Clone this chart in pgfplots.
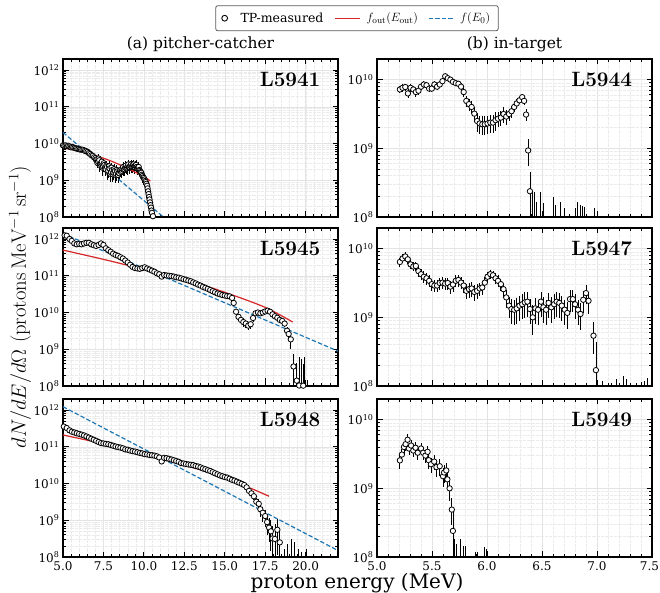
\documentclass[border=0pt]{standalone}
\usepackage[no-math]{fontspec}
\setmainfont{DejaVu Serif}
\usepackage{pgfplots}
\usepackage{pgfplotstable}
\pgfplotsset{compat=1.18}
\definecolor{tabred}{RGB}{214,39,40}
\definecolor{tabblue}{RGB}{31,119,180}
\tikzset{myLab/.style={anchor=east, font=\fontsize{22}{24}\selectfont}}
\pgfplotsset{myLongLine/.style={legend image code/.code={\draw[##1] (0pt,0pt) -- (25pt,0pt);}}}

\pgfplotstableread{
x y ep em
5.00 8.9e9 0.08 0.08
5.08 8.7e9 0.08 0.08
5.16 8.9e9 0.08 0.08
5.24 8.5e9 0.08 0.08
5.32 8.7e9 0.08 0.08
5.40 8.3e9 0.08 0.08
5.48 7.9e9 0.08 0.08
5.56 8.1e9 0.08 0.08
5.64 7.8e9 0.08 0.08
5.72 7.6e9 0.08 0.08
5.80 7.4e9 0.1 0.1
5.88 7.2e9 0.1 0.1
5.96 7.1e9 0.1 0.1
6.04 6.9e9 0.1 0.1
6.12 6.8e9 0.1 0.1
6.20 6.8e9 0.1 0.1
6.28 6.6e9 0.1 0.1
6.36 6.3e9 0.12 0.12
6.44 6.2e9 0.12 0.12
6.52 5.9e9 0.12 0.12
6.60 5.5e9 0.15 0.15
6.68 5.2e9 0.15 0.15
6.76 4.8e9 0.15 0.15
6.84 4.6e9 0.15 0.15
6.92 4.2e9 0.15 0.15
7.00 4.0e9 0.2 0.2
7.04 3.6e9 0.3 0.3
7.08 3.7e9 0.2 0.2
7.12 3.0e9 0.3 0.3
7.16 3.3e9 0.25 0.25
7.20 3.9e9 0.3 0.3
7.24 3.5e9 0.25 0.25
7.28 2.6e9 0.35 0.35
7.32 2.8e9 0.3 0.3
7.36 3.0e9 0.35 0.35
7.40 3.2e9 0.3 0.3
7.44 2.2e9 0.4 0.4
7.48 2.4e9 0.3 0.3
7.52 2.9e9 0.35 0.35
7.56 2.6e9 0.3 0.3
7.60 2.2e9 0.4 0.4
7.64 2.0e9 0.35 0.35
7.68 2.5e9 0.35 0.35
7.72 2.3e9 0.3 0.3
7.76 1.7e9 0.4 0.4
7.80 1.8e9 0.35 0.35
7.84 2.4e9 0.35 0.35
7.88 2.1e9 0.3 0.3
7.92 1.5e9 0.4 0.4
7.96 1.66e9 0.35 0.35
8.00 2.2e9 0.35 0.35
8.04 1.9e9 0.3 0.3
8.08 1.45e9 0.4 0.4
8.12 1.6e9 0.35 0.35
8.16 2.0e9 0.35 0.35
8.20 1.8e9 0.3 0.3
8.24 1.4e9 0.4 0.4
8.28 1.5e9 0.35 0.35
8.32 1.9e9 0.35 0.35
8.36 1.74e9 0.3 0.3
8.40 1.4e9 0.4 0.4
8.44 1.6e9 0.35 0.35
8.48 1.55e9 0.35 0.35
8.52 1.8e9 0.3 0.3
8.56 1.9e9 0.35 0.35
8.60 1.66e9 0.3 0.3
8.64 1.8e9 0.35 0.35
8.68 2.0e9 0.3 0.3
8.72 2.3e9 0.35 0.35
8.76 1.9e9 0.3 0.3
8.80 2.0e9 0.35 0.35
8.84 2.2e9 0.3 0.3
8.88 2.5e9 0.35 0.35
8.92 2.1e9 0.3 0.3
8.96 2.2e9 0.35 0.35
9.00 2.4e9 0.3 0.3
9.04 2.7e9 0.35 0.35
9.08 2.24e9 0.3 0.3
9.12 2.3e9 0.35 0.35
9.16 2.5e9 0.3 0.3
9.20 2.7e9 0.35 0.35
9.24 2.3e9 0.3 0.3
9.28 2.4e9 0.35 0.35
9.32 2.6e9 0.3 0.3
9.36 2.7e9 0.35 0.35
9.40 2.4e9 0.3 0.3
9.44 2.3e9 0.35 0.35
9.48 2.5e9 0.3 0.3
9.52 2.6e9 0.35 0.35
9.56 2.3e9 0.3 0.3
9.60 2.1e9 0.35 0.35
9.64 2.2e9 0.3 0.3
9.68 2.3e9 0.35 0.35
9.72 1.9e9 0.3 0.3
9.76 1.8e9 0.35 0.35
9.80 1.66e9 0.3 0.3
9.84 1.6e9 0.35 0.35
9.88 1.41e9 0.3 0.3
9.92 1.3e9 0.35 0.35
9.96 1.2e9 0.3 0.3
10.00 1.15e9 0.35 0.35
10.04 1.05e9 0.3 0.3
10.08 9.5e8 0.35 0.35
10.12 8.9e8 0.35 0.35
10.16 8.0e8 0.35 0.35
10.20 7.1e8 0.35 0.35
10.23 6.0e8 0.4 0.4
10.26 5.0e8 0.4 0.4
10.29 4.2e8 0.4 0.4
10.32 3.5e8 0.4 0.4
10.35 3.0e8 0.45 0.45
10.38 2.5e8 0.45 0.45
10.41 2.1e8 0.5 0.5
10.44 1.8e8 0.5 0.5
10.47 1.5e8 0.55 0.55
10.50 1.3e8 0.6 0.6
10.56 1.05e8 0.7 0.7
}\dA

\pgfplotstableread{
x y ep em
5.10 1.26e12 0.05 0.05
5.23 1.23e12 0.05 0.05
5.40 1.0e12 0.05 0.05
5.54 8.9e11 0.05 0.05
5.70 7.6e11 0.05 0.05
5.85 7.2e11 0.05 0.05
6.00 7.4e11 0.05 0.05
6.15 7.2e11 0.05 0.05
6.30 7.6e11 0.05 0.05
6.45 7.9e11 0.05 0.05
6.60 7.9e11 0.05 0.05
6.75 7.2e11 0.05 0.05
6.90 6.8e11 0.05 0.05
7.05 6.5e11 0.05 0.05
7.20 6.9e11 0.05 0.05
7.35 7.6e11 0.05 0.05
7.50 6.9e11 0.05 0.05
7.65 5.6e11 0.05 0.05
7.80 5.0e11 0.05 0.05
7.95 4.5e11 0.05 0.05
8.10 4.0e11 0.05 0.05
8.25 3.7e11 0.05 0.05
8.40 3.5e11 0.05 0.05
8.55 3.2e11 0.05 0.05
8.70 2.95e11 0.05 0.05
8.85 2.6e11 0.05 0.05
9.00 2.3e11 0.05 0.05
9.15 2.0e11 0.05 0.05
9.30 1.74e11 0.05 0.05
9.45 1.62e11 0.05 0.05
9.60 1.58e11 0.05 0.05
9.75 1.55e11 0.05 0.05
9.90 1.62e11 0.05 0.05
10.05 1.7e11 0.05 0.05
10.20 1.58e11 0.05 0.05
10.35 1.48e11 0.05 0.05
10.50 1.38e11 0.05 0.05
10.65 1.29e11 0.05 0.05
10.80 1.17e11 0.05 0.05
10.95 1.1e11 0.05 0.05
11.10 9.5e10 0.05 0.05
11.25 1.05e11 0.05 0.05
11.40 1.02e11 0.05 0.05
11.55 1.0e11 0.05 0.05
11.70 9.8e10 0.05 0.05
11.85 9.5e10 0.05 0.05
12.00 9.1e10 0.05 0.05
12.15 8.9e10 0.05 0.05
12.30 8.5e10 0.05 0.05
12.45 8.1e10 0.05 0.05
12.60 7.8e10 0.05 0.05
12.75 7.4e10 0.05 0.05
12.90 7.1e10 0.05 0.05
13.05 6.6e10 0.05 0.05
13.20 6.2e10 0.05 0.05
13.35 5.75e10 0.05 0.05
13.50 5.4e10 0.05 0.05
13.65 5.0e10 0.05 0.05
13.80 4.7e10 0.05 0.05
13.95 4.4e10 0.05 0.05
14.10 4.1e10 0.05 0.05
14.25 3.8e10 0.05 0.05
14.40 3.55e10 0.05 0.05
14.55 3.3e10 0.05 0.05
14.70 3.16e10 0.05 0.05
14.85 3.0e10 0.05 0.05
15.00 2.9e10 0.05 0.05
15.15 2.8e10 0.05 0.05
15.30 2.75e10 0.05 0.05
15.45 2.5e10 0.08 0.08
15.55 1.82e10 0.1 0.1
15.70 1.05e10 0.15 0.15
15.85 7.6e9 0.2 0.2
16.00 6.3e9 0.2 0.2
16.15 5.5e9 0.25 0.25
16.30 5.0e9 0.25 0.25
16.45 4.4e9 0.25 0.25
16.60 4.8e9 0.25 0.25
16.75 7.1e9 0.2 0.2
16.90 9.5e9 0.15 0.15
17.05 1.0e10 0.12 0.12
17.20 9.5e9 0.12 0.12
17.35 1.0e10 0.12 0.12
17.50 1.07e10 0.12 0.12
17.65 1.12e10 0.12 0.12
17.80 1.05e10 0.12 0.12
17.95 8.9e9 0.12 0.12
18.10 7.9e9 0.12 0.12
18.25 7.2e9 0.15 0.15
18.40 6.3e9 0.15 0.15
18.55 5.9e9 0.15 0.15
18.70 5.0e9 0.2 0.2
18.85 3.2e9 0.25 0.25
18.95 2.6e9 0.3 0.3
19.08 1.86e9 0.5 0.45
19.25 3.4e8 1.2 0.7
19.45 1.4e8 2.0 0.8
19.60 1.03e8 2.5 0.8
19.85 1.02e8 3.0 0.8
}\dB

\pgfplotstableread{
x y ep em
5.05 3.55e11 0.04 0.04
5.23 3.24e11 0.04 0.04
5.40 2.8e11 0.04 0.04
5.55 2.57e11 0.04 0.04
5.70 2.45e11 0.04 0.04
5.85 2.34e11 0.04 0.04
6.00 2.24e11 0.04 0.04
6.15 2.14e11 0.04 0.04
6.30 2.04e11 0.04 0.04
6.45 1.91e11 0.04 0.04
6.60 1.78e11 0.04 0.04
6.75 1.66e11 0.04 0.04
6.90 1.55e11 0.04 0.04
7.05 1.45e11 0.04 0.04
7.20 1.35e11 0.04 0.04
7.35 1.26e11 0.04 0.04
7.50 1.23e11 0.04 0.04
7.65 1.2e11 0.04 0.04
7.80 1.17e11 0.04 0.04
7.95 1.12e11 0.04 0.04
8.10 1.07e11 0.04 0.04
8.25 1.02e11 0.04 0.04
8.40 9.8e10 0.04 0.04
8.55 9.5e10 0.04 0.04
8.70 9.1e10 0.04 0.04
8.85 8.5e10 0.04 0.04
9.00 8.3e10 0.04 0.04
9.15 7.9e10 0.04 0.04
9.30 7.6e10 0.04 0.04
9.45 7.4e10 0.04 0.04
9.60 7.1e10 0.04 0.04
9.75 6.8e10 0.04 0.04
9.90 6.6e10 0.04 0.04
10.05 6.3e10 0.04 0.04
10.20 6.2e10 0.04 0.04
10.35 6.0e10 0.04 0.04
10.50 5.9e10 0.04 0.04
10.65 5.75e10 0.04 0.04
10.80 5.5e10 0.04 0.04
10.95 5.1e10 0.04 0.04
11.10 4.0e10 0.06 0.06
11.25 5.0e10 0.04 0.04
11.40 4.9e10 0.04 0.04
11.55 4.7e10 0.04 0.04
11.70 4.5e10 0.04 0.04
11.85 4.3e10 0.04 0.04
12.00 4.1e10 0.04 0.04
12.15 3.9e10 0.04 0.04
12.30 3.6e10 0.04 0.04
12.45 3.5e10 0.04 0.04
12.60 3.4e10 0.04 0.04
12.75 3.3e10 0.04 0.04
12.90 3.24e10 0.04 0.04
13.05 3.16e10 0.04 0.04
13.20 3.0e10 0.04 0.04
13.35 2.9e10 0.04 0.04
13.50 2.75e10 0.04 0.04
13.65 2.57e10 0.04 0.04
13.80 2.45e10 0.04 0.04
13.95 2.3e10 0.04 0.04
14.10 2.2e10 0.04 0.04
14.25 2.04e10 0.04 0.04
14.40 1.9e10 0.04 0.04
14.55 1.78e10 0.04 0.04
14.70 1.66e10 0.04 0.04
14.85 1.58e10 0.04 0.04
15.00 1.5e10 0.05 0.05
15.15 1.45e10 0.05 0.05
15.30 1.35e10 0.05 0.05
15.45 1.26e10 0.05 0.05
15.60 1.2e10 0.05 0.05
15.75 1.12e10 0.06 0.06
15.90 1.05e10 0.06 0.06
16.05 9.8e9 0.06 0.06
16.20 9.1e9 0.08 0.08
16.35 7.9e9 0.1 0.1
16.50 6.3e9 0.12 0.12
16.65 5.4e9 0.15 0.15
16.80 4.5e9 0.2 0.2
16.95 3.2e9 0.25 0.25
17.10 2.8e9 0.35 0.35
17.20 2.0e9 0.4 0.4
17.35 1.6e9 0.45 0.45
17.50 1.3e9 0.5 0.5
17.62 8.9e8 0.6 0.55
17.74 6.3e8 0.8 0.6
17.85 5.0e8 1.0 0.7
17.95 3.2e8 1.2 0.75
18.10 3.1e8 1.5 0.8
18.25 5.5e8 1.0 0.8
18.40 2.5e8 1.5 0.8
}\dC

\pgfplotstableread{
x y ep em
5.208 7.2e9 0.12 0.12
5.232 7.6e9 0.12 0.12
5.257 7.8e9 0.12 0.12
5.281 6.3e9 0.15 0.15
5.305 7.6e9 0.12 0.12
5.330 7.2e9 0.12 0.12
5.353 6.6e9 0.15 0.15
5.377 6.9e9 0.12 0.12
5.400 7.9e9 0.12 0.12
5.426 8.5e9 0.12 0.12
5.450 8.3e9 0.12 0.12
5.474 7.4e9 0.12 0.12
5.498 7.4e9 0.12 0.12
5.522 8.5e9 0.12 0.12
5.546 7.9e9 0.12 0.12
5.570 8.5e9 0.12 0.12
5.595 9.5e9 0.1 0.1
5.620 1.12e10 0.1 0.1
5.643 1.05e10 0.1 0.1
5.667 1.0e10 0.1 0.1
5.690 9.3e9 0.1 0.1
5.716 8.9e9 0.1 0.1
5.740 8.7e9 0.1 0.1
5.764 7.9e9 0.12 0.12
5.788 6.6e9 0.15 0.15
5.812 4.9e9 0.18 0.18
5.836 4.4e9 0.2 0.2
5.860 4.0e9 0.22 0.22
5.885 3.2e9 0.25 0.25
5.910 2.5e9 0.3 0.3
5.933 2.3e9 0.3 0.3
5.957 2.24e9 0.3 0.3
5.980 2.24e9 0.3 0.3
6.005 2.3e9 0.3 0.3
6.030 2.37e9 0.3 0.3
6.054 2.37e9 0.3 0.3
6.078 2.57e9 0.3 0.3
6.100 2.7e9 0.25 0.25
6.126 2.8e9 0.25 0.25
6.150 3.16e9 0.25 0.25
6.175 2.9e9 0.25 0.25
6.200 3.16e9 0.2 0.2
6.223 3.47e9 0.2 0.2
6.247 4.0e9 0.15 0.15
6.270 4.5e9 0.15 0.15
6.295 5.0e9 0.12 0.12
6.320 5.56e9 0.12 0.12
6.337 4.9e9 0.12 0.12
6.355 3.1e9 0.2 0.2
6.374 9.3e8 0.45 0.4
6.390 2.37e8 0.9 0.8
}\dD

\pgfplotstableread{
x y ep em
5.208 6.4e9 0.15 0.15
5.232 7.2e9 0.15 0.15
5.257 7.7e9 0.15 0.15
5.280 7.0e9 0.15 0.15
5.305 5.9e9 0.15 0.15
5.330 5.5e9 0.15 0.15
5.353 5.6e9 0.15 0.15
5.377 4.7e9 0.18 0.18
5.400 4.25e9 0.18 0.18
5.426 3.9e9 0.2 0.2
5.450 3.7e9 0.2 0.2
5.474 3.4e9 0.2 0.2
5.498 3.04e9 0.2 0.2
5.522 2.9e9 0.2 0.2
5.546 2.9e9 0.2 0.2
5.570 3.16e9 0.2 0.2
5.595 3.2e9 0.2 0.2
5.620 3.1e9 0.2 0.2
5.643 3.16e9 0.2 0.2
5.667 2.8e9 0.22 0.22
5.690 3.0e9 0.22 0.22
5.716 3.4e9 0.2 0.2
5.740 3.5e9 0.2 0.2
5.764 3.2e9 0.2 0.2
5.788 2.9e9 0.22 0.22
5.812 2.43e9 0.25 0.25
5.836 2.57e9 0.25 0.25
5.860 2.63e9 0.25 0.25
5.885 2.34e9 0.25 0.25
5.910 2.43e9 0.25 0.25
5.933 2.63e9 0.22 0.22
5.957 2.72e9 0.22 0.22
5.980 3.2e9 0.2 0.2
6.005 3.9e9 0.18 0.18
6.030 4.25e9 0.15 0.15
6.054 4.1e9 0.15 0.15
6.078 3.7e9 0.18 0.18
6.100 3.4e9 0.2 0.2
6.126 3.04e9 0.2 0.2
6.150 2.57e9 0.25 0.25
6.175 1.95e9 0.3 0.3
6.200 1.48e9 0.35 0.35
6.223 1.32e9 0.4 0.4
6.247 1.29e9 0.4 0.4
6.270 1.35e9 0.4 0.4
6.295 1.48e9 0.4 0.4
6.320 1.55e9 0.4 0.4
6.344 1.65e9 0.4 0.4
6.367 1.69e9 0.4 0.4
6.390 1.32e9 0.4 0.4
6.416 1.0e9 0.5 0.45
6.440 1.35e9 0.4 0.4
6.464 1.29e9 0.4 0.4
6.490 1.69e9 0.4 0.4
6.513 1.4e9 0.4 0.4
6.537 1.29e9 0.4 0.4
6.560 1.62e9 0.4 0.4
6.585 1.4e9 0.4 0.4
6.610 1.55e9 0.4 0.4
6.633 1.69e9 0.4 0.4
6.657 1.62e9 0.4 0.4
6.680 1.48e9 0.4 0.4
6.706 1.29e9 0.4 0.4
6.730 1.16e9 0.45 0.42
6.754 1.84e9 0.35 0.35
6.780 1.84e9 0.35 0.35
6.800 1.55e9 0.4 0.4
6.827 1.29e9 0.4 0.4
6.850 1.12e9 0.45 0.42
6.875 1.8e9 0.35 0.35
6.900 2.25e9 0.3 0.3
6.923 1.74e9 0.35 0.35
6.968 5.4e8 0.6 0.45
6.990 1.7e8 1.6 0.85
}\dE

\pgfplotstableread{
x y ep em
5.208 2.55e9 0.25 0.25
5.226 3.1e9 0.22 0.22
5.245 4.0e9 0.2 0.2
5.260 4.4e9 0.2 0.2
5.278 5.1e9 0.2 0.2
5.290 3.8e9 0.2 0.2
5.310 4.2e9 0.2 0.2
5.330 3.55e9 0.2 0.2
5.350 3.9e9 0.2 0.2
5.370 3.3e9 0.22 0.22
5.400 3.8e9 0.2 0.2
5.420 3.3e9 0.22 0.22
5.440 3.0e9 0.22 0.22
5.460 3.4e9 0.22 0.22
5.470 2.57e9 0.25 0.25
5.490 2.24e9 0.25 0.25
5.520 2.45e9 0.25 0.25
5.540 2.04e9 0.28 0.28
5.570 2.1e9 0.28 0.28
5.600 1.5e9 0.3 0.3
5.610 1.7e9 0.3 0.3
5.630 1.82e9 0.3 0.3
5.640 1.35e9 0.3 0.3
5.660 1.0e9 0.35 0.35
5.680 4.9e8 0.5 0.4
5.690 2.4e8 0.9 0.8
}\dF

\begin{document}
\begin{tikzpicture}
\useasboundingbox (0pt,0pt) rectangle (660pt,593pt);

% ---------- legend (separate hidden axis)
\begin{axis}[at={(63pt,376pt)}, anchor=south west, scale only axis, width=275pt, height=158pt,
  hide axis, xmin=0, xmax=1, ymin=0, ymax=1,
  legend columns=3,
  legend style={at={(1.069,1.258)}, anchor=center, draw=black!65, rounded corners=2pt,
    line width=0.8pt, font=\fontsize{12.5}{14}\selectfont, inner xsep=6pt, inner ysep=5pt},
  legend cell align=left]
\addlegendimage{only marks, mark=*, mark size=2.9pt, mark options={fill=white, draw=black, line width=0.9pt}}
\addlegendentry{\hspace*{11pt}TP-measured\hspace*{9pt}}
\addlegendimage{myLongLine, tabred, line width=1.2pt}
\addlegendentry{\hspace*{4pt}$f_{\mathrm{out}}(E_{\mathrm{out}})$\hspace*{8pt}}
\addlegendimage{myLongLine, tabblue, line width=1.2pt, dash pattern=on 4.4pt off 2.2pt}
\addlegendentry{\hspace*{4pt}$f(E_0)$}
\end{axis}

% ---------- (a) top: L5941
\begin{axis}[at={(63pt,376pt)}, anchor=south west, scale only axis, width=275pt, height=158pt,
  ymode=log, xmin=5, xmax=22, ymin=1e8, ymax=2e12,
  axis line style={line width=1.1pt}, tick style={black, line width=0.8pt},
  major tick length=5.5pt, minor tick length=3pt, tick align=inside, grid=both,
  major grid style={line width=0.5pt, black!11}, minor grid style={line width=0.3pt, black!8, densely dotted},
  tick label style={font=\fontsize{12}{14}\selectfont},
  xtick={5,7.5,10,12.5,15,17.5,20}, minor xtick={5,5.5,...,22}, xticklabels={},
  ytick={1e8,1e9,1e10,1e11,1e12},
  yticklabels={10\textsuperscript{8},10\textsuperscript{9},10\textsuperscript{10},10\textsuperscript{11},10\textsuperscript{12}},
  minor ytick={2e8,3e8,4e8,5e8,6e8,7e8,8e8,9e8,2e9,3e9,4e9,5e9,6e9,7e9,8e9,9e9,2e10,3e10,4e10,5e10,6e10,7e10,8e10,9e10,2e11,3e11,4e11,5e11,6e11,7e11,8e11,9e11,2e12}]
\addplot[only marks, mark=*, mark size=2.7pt, mark options={fill=white, draw=black, line width=0.8pt},
  error bars/y dir=both, error bars/y explicit relative, error bars/error bar style={black, line width=0.8pt}, error bars/error mark=none]
  table[x=x, y=y, y error plus=ep, y error minus=em] {\dA};
\addplot[tabred, line width=1.2pt, smooth, mark=none] coordinates {(5,7.6e9) (6,6.2e9) (7,4.7e9) (8,3.3e9) (9,2.1e9) (10,1.26e9) (10.4,9.5e8)};
\addplot[tabblue, line width=1.2pt, dash pattern=on 4.4pt off 2.2pt, mark=none] coordinates {(5,2.0e10) (22,1e4)};
\node[myLab] at (rel axis cs:0.949,0.873) {$\mathbf{L5941}$};
\end{axis}

% ---------- (a) middle: L5945
\begin{axis}[at={(63pt,207pt)}, anchor=south west, scale only axis, width=275pt, height=158pt,
  ymode=log, xmin=5, xmax=22, ymin=1e8, ymax=2e12,
  axis line style={line width=1.1pt}, tick style={black, line width=0.8pt},
  major tick length=5.5pt, minor tick length=3pt, tick align=inside, grid=both,
  major grid style={line width=0.5pt, black!11}, minor grid style={line width=0.3pt, black!8, densely dotted},
  tick label style={font=\fontsize{12}{14}\selectfont},
  xtick={5,7.5,10,12.5,15,17.5,20}, minor xtick={5,5.5,...,22}, xticklabels={},
  ytick={1e8,1e9,1e10,1e11,1e12},
  yticklabels={10\textsuperscript{8},10\textsuperscript{9},10\textsuperscript{10},10\textsuperscript{11},10\textsuperscript{12}},
  minor ytick={2e8,3e8,4e8,5e8,6e8,7e8,8e8,9e8,2e9,3e9,4e9,5e9,6e9,7e9,8e9,9e9,2e10,3e10,4e10,5e10,6e10,7e10,8e10,9e10,2e11,3e11,4e11,5e11,6e11,7e11,8e11,9e11,2e12}]
\addplot[ycomb, black, line width=0.9pt, mark=none] coordinates {(17.5,1.66e8) (18.5,1.26e8) (19.6,6.0e8) (19.75,5.5e8) (19.9,6.3e8) (20.1,1.5e8)};
\addplot[only marks, mark=*, mark size=2.7pt, mark options={fill=white, draw=black, line width=0.8pt},
  error bars/y dir=both, error bars/y explicit relative, error bars/error bar style={black, line width=0.8pt}, error bars/error mark=none]
  table[x=x, y=y, y error plus=ep, y error minus=em] {\dB};
\addplot[tabred, line width=1.2pt, smooth, mark=none] coordinates {(5,5.0e11) (7.5,2.8e11) (10,1.5e11) (12.5,8.1e10) (15,3.55e10) (17.5,1.38e10) (19.2,5.5e9)};
\addplot[tabblue, line width=1.2pt, dash pattern=on 4.4pt off 2.2pt, mark=none] coordinates {(5,1.4e12) (22,8.9e8)};
\node[myLab] at (rel axis cs:0.949,0.873) {$\mathbf{L5945}$};
\end{axis}

% ---------- (a) bottom: L5948
\begin{axis}[at={(63pt,36pt)}, anchor=south west, scale only axis, width=275pt, height=158pt,
  ymode=log, xmin=5, xmax=22, ymin=1e8, ymax=2e12,
  axis line style={line width=1.1pt}, tick style={black, line width=0.8pt},
  major tick length=5.5pt, minor tick length=3pt, tick align=inside, grid=both,
  major grid style={line width=0.5pt, black!11}, minor grid style={line width=0.3pt, black!8, densely dotted},
  tick label style={font=\fontsize{12}{14}\selectfont},
  xticklabel style={yshift=-1.5pt},
  xtick={5,7.5,10,12.5,15,17.5,20}, minor xtick={5,5.5,...,22},
  xticklabels={5.0,7.5,10.0,12.5,15.0,17.5,20.0},
  ytick={1e8,1e9,1e10,1e11,1e12},
  yticklabels={10\textsuperscript{8},10\textsuperscript{9},10\textsuperscript{10},10\textsuperscript{11},10\textsuperscript{12}},
  minor ytick={2e8,3e8,4e8,5e8,6e8,7e8,8e8,9e8,2e9,3e9,4e9,5e9,6e9,7e9,8e9,9e9,2e10,3e10,4e10,5e10,6e10,7e10,8e10,9e10,2e11,3e11,4e11,5e11,6e11,7e11,8e11,9e11,2e12}]
\addplot[ycomb, black, line width=0.9pt, mark=none] coordinates {(18.67,1.7e8) (18.9,2.2e8) (19.14,3.0e8) (19.3,2.5e8) (19.56,1.7e8) (19.77,1.38e8) (20.04,1.7e8)};
\addplot[only marks, mark=*, mark size=2.7pt, mark options={fill=white, draw=black, line width=0.8pt},
  error bars/y dir=both, error bars/y explicit relative, error bars/error bar style={black, line width=0.8pt}, error bars/error mark=none]
  table[x=x, y=y, y error plus=ep, y error minus=em] {\dC};
\addplot[tabred, line width=1.2pt, smooth, mark=none] coordinates {(5,2.1e11) (7.5,1.2e11) (10,6.3e10) (12.5,3.16e10) (15,1.45e10) (17.74,4.5e9)};
\addplot[tabblue, line width=1.2pt, dash pattern=on 4.4pt off 2.2pt, mark=none] coordinates {(5,1.23e12) (22,1.5e8)};
\node[myLab] at (rel axis cs:0.949,0.873) {$\mathbf{L5948}$};
\end{axis}

% ---------- (b) top: L5944
\begin{axis}[at={(377pt,376pt)}, anchor=south west, scale only axis, width=275pt, height=158pt,
  ymode=log, xmin=5, xmax=7.5, ymin=1e8, ymax=2e10,
  axis line style={line width=1.1pt}, tick style={black, line width=0.8pt},
  major tick length=5.5pt, minor tick length=3pt, tick align=inside, grid=both,
  major grid style={line width=0.5pt, black!11}, minor grid style={line width=0.3pt, black!8, densely dotted},
  tick label style={font=\fontsize{12}{14}\selectfont},
  xtick={5,5.5,6,6.5,7,7.5}, minor xtick={5.1,5.2,5.3,5.4,5.6,5.7,5.8,5.9,6.1,6.2,6.3,6.4,6.6,6.7,6.8,6.9,7.1,7.2,7.3,7.4}, xticklabels={},
  ytick={1e8,1e9,1e10},
  yticklabels={10\textsuperscript{8},10\textsuperscript{9},10\textsuperscript{10}},
  minor ytick={2e8,3e8,4e8,5e8,6e8,7e8,8e8,9e8,2e9,3e9,4e9,5e9,6e9,7e9,8e9,9e9,2e10}]
\addplot[ycomb, black, line width=0.9pt, mark=none] coordinates {(6.41,2.3e8) (6.43,2.3e8) (6.45,1.66e8) (6.485,2.3e8) (6.51,1.58e8) (6.6,1.95e8) (6.62,1.5e8) (6.667,1.66e8) (6.7,1.35e8) (6.75,1.12e8) (6.8,1.35e8) (6.82,1.66e8) (6.85,1.5e8) (6.87,1.45e8) (6.89,1.4e8) (6.98,1.35e8)};
\addplot[only marks, mark=*, mark size=2.7pt, mark options={fill=white, draw=black, line width=0.8pt},
  error bars/y dir=both, error bars/y explicit relative, error bars/error bar style={black, line width=0.8pt}, error bars/error mark=none]
  table[x=x, y=y, y error plus=ep, y error minus=em] {\dD};
\node[myLab] at (rel axis cs:0.94,0.873) {$\mathbf{L5944}$};
\end{axis}

% ---------- (b) middle: L5947
\begin{axis}[at={(377pt,207pt)}, anchor=south west, scale only axis, width=275pt, height=158pt,
  ymode=log, xmin=5, xmax=7.5, ymin=1e8, ymax=2e10,
  axis line style={line width=1.1pt}, tick style={black, line width=0.8pt},
  major tick length=5.5pt, minor tick length=3pt, tick align=inside, grid=both,
  major grid style={line width=0.5pt, black!11}, minor grid style={line width=0.3pt, black!8, densely dotted},
  tick label style={font=\fontsize{12}{14}\selectfont},
  xtick={5,5.5,6,6.5,7,7.5}, minor xtick={5.1,5.2,5.3,5.4,5.6,5.7,5.8,5.9,6.1,6.2,6.3,6.4,6.6,6.7,6.8,6.9,7.1,7.2,7.3,7.4}, xticklabels={},
  ytick={1e8,1e9,1e10},
  yticklabels={10\textsuperscript{8},10\textsuperscript{9},10\textsuperscript{10}},
  minor ytick={2e8,3e8,4e8,5e8,6e8,7e8,8e8,9e8,2e9,3e9,4e9,5e9,6e9,7e9,8e9,9e9,2e10}]
\addplot[ycomb, black, line width=0.9pt, mark=none] coordinates {(7.05,1.17e8) (7.13,1.12e8) (7.18,1.26e8) (7.24,1.38e8) (7.27,1.26e8) (7.36,1.12e8) (7.4,1.15e8) (7.43,1.17e8) (7.46,1.32e8)};
\addplot[only marks, mark=*, mark size=2.7pt, mark options={fill=white, draw=black, line width=0.8pt},
  error bars/y dir=both, error bars/y explicit relative, error bars/error bar style={black, line width=0.8pt}, error bars/error mark=none]
  table[x=x, y=y, y error plus=ep, y error minus=em] {\dE};
\node[myLab] at (rel axis cs:0.94,0.873) {$\mathbf{L5947}$};
\end{axis}

% ---------- (b) bottom: L5949
\begin{axis}[at={(377pt,36pt)}, anchor=south west, scale only axis, width=275pt, height=158pt,
  ymode=log, xmin=5, xmax=7.5, ymin=1e8, ymax=2e10,
  axis line style={line width=1.1pt}, tick style={black, line width=0.8pt},
  major tick length=5.5pt, minor tick length=3pt, tick align=inside, grid=both,
  major grid style={line width=0.5pt, black!11}, minor grid style={line width=0.3pt, black!8, densely dotted},
  tick label style={font=\fontsize{12}{14}\selectfont},
  xticklabel style={yshift=-1.5pt},
  xtick={5,5.5,6,6.5,7,7.5}, minor xtick={5.1,5.2,5.3,5.4,5.6,5.7,5.8,5.9,6.1,6.2,6.3,6.4,6.6,6.7,6.8,6.9,7.1,7.2,7.3,7.4},
  xticklabels={5.0,5.5,6.0,6.5,7.0,\makebox[0pt][r]{7.5\hspace*{-7pt}}},
  ytick={1e8,1e9,1e10},
  yticklabels={10\textsuperscript{8},10\textsuperscript{9},10\textsuperscript{10}},
  minor ytick={2e8,3e8,4e8,5e8,6e8,7e8,8e8,9e8,2e9,3e9,4e9,5e9,6e9,7e9,8e9,9e9,2e10}]
\addplot[ycomb, black, line width=0.9pt, mark=none] coordinates {(5.7,1.8e8) (5.72,1.55e8) (5.755,1.8e8) (5.79,1.45e8) (5.806,1.45e8) (5.897,1.17e8) (5.912,1.17e8) (5.978,1.38e8) (5.993,1.3e8)};
\addplot[only marks, mark=*, mark size=2.7pt, mark options={fill=white, draw=black, line width=0.8pt},
  error bars/y dir=both, error bars/y explicit relative, error bars/error bar style={black, line width=0.8pt}, error bars/error mark=none]
  table[x=x, y=y, y error plus=ep, y error minus=em] {\dF};
\node[myLab] at (rel axis cs:0.94,0.873) {$\mathbf{L5949}$};
\end{axis}

% ---------- titles and labels
\node[font=\fontsize{15.5}{17}\selectfont] at (200.5pt,549pt) {(a) pitcher-catcher};
\node[font=\fontsize{15.5}{17}\selectfont] at (514.5pt,549pt) {(b) in-target};
\node[font=\fontsize{20}{22}\selectfont] at (357pt,10pt) {proton energy (MeV)};
\node[rotate=90, font=\fontsize{20}{22}\selectfont] at (20pt,286pt) {$dN/dE/d\Omega\ (\mathrm{protons\,MeV^{-1}\,sr^{-1}})$};
\end{tikzpicture}
\end{document}
